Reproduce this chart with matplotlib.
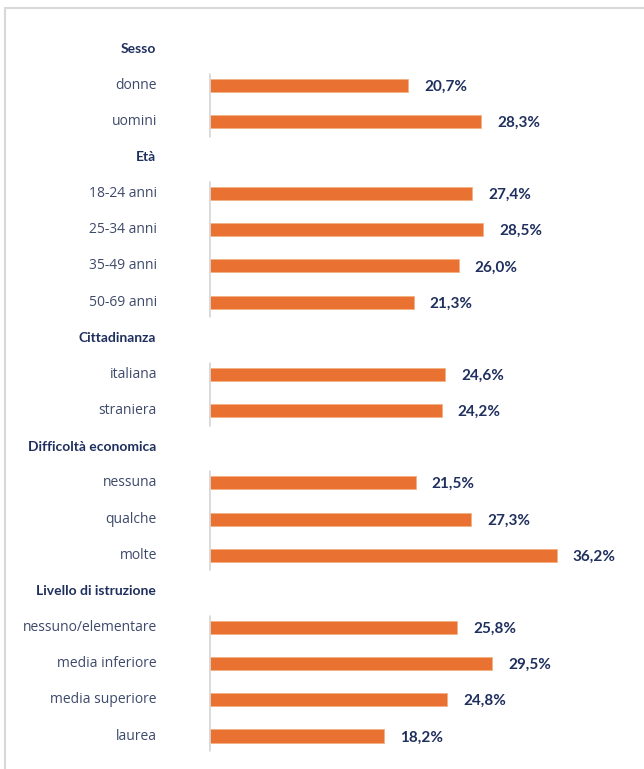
import matplotlib.pyplot as plt
from matplotlib.patches import Rectangle

# dati
groups = ['Sesso', 'Età', 'Cittadinanza', 'Difficoltà economica', 'Livello di istruzione']
sesso_labels = ['donne', 'uomini']
sesso_values = [20.7, 28.3]
eta_labels = ['18-24 anni', '25-34 anni', '35-49 anni', '50-69 anni']
eta_values = [27.4, 28.5, 26.0, 21.3]
citt_labels = ['italiana', 'straniera']
citt_values = [24.6, 24.2]
diff_labels = ['nessuna', 'qualche', 'molte']
diff_values = [21.5, 27.3, 36.2]
istr_labels = ['nessuno/elementare', 'media inferiore', 'media superiore', 'laurea']
istr_values = [25.8, 29.5, 24.8, 18.2]

all_labels = [sesso_labels, eta_labels, citt_labels, diff_labels, istr_labels]
all_values = [sesso_values, eta_values, citt_values, diff_values, istr_values]

bar_color = '#E97132'
navy = '#1F2F5E'
label_color = '#3E4A6B'
axis_color = '#D9D9D9'

plt.rcParams['font.family'] = ['Open Sans', 'DejaVu Sans']
bold_font = ['Lato', 'DejaVu Sans']

W, H = 644, 769
fig = plt.figure(figsize=(W / 100, H / 100), dpi=100)

# cornice grigia
fig.patches.append(Rectangle((5 / W, 0 - 0.01), 1.0, 1 - 8 / H + 0.01, transform=fig.transFigure,
                             fill=False, edgecolor='#D9D9D9', linewidth=1.5))

n_rows = sum(len(l) for l in all_labels) + len(groups)
row_px = (736 - 49) / (n_rows - 1)
top_px = 49 - row_px / 2
bot_px = 736 + row_px / 2
left_px, right_px = 209, 600
ax = fig.add_axes([left_px / W, 1 - bot_px / H, (right_px - left_px) / W, (bot_px - top_px) / H])
ax.set_xlim(0, (right_px - left_px) / 9.61)
ax.set_ylim(n_rows - 0.5, -0.5)
ax.axis('off')

px2pt = 72 / 100
row = 0
for g, labs, vals in zip(groups, all_labels, all_values):
    ax.annotate(g, xy=(0, row), xytext=(-53 * px2pt, 0), textcoords='offset points',
                ha='right', va='center', fontsize=10, fontweight='bold', color=navy,
                family=bold_font)
    first = row + 1
    for lab, v in zip(labs, vals):
        row += 1
        ax.barh(row, v, height=0.36, color=bar_color, edgecolor='#F4B183', linewidth=0.6)
        ax.annotate(lab, xy=(0, row), xytext=(-52 * px2pt, 0), textcoords='offset points',
                    ha='right', va='center', fontsize=10, color=label_color)
        ax.annotate(f'{v:.1f}%'.replace('.', ','), xy=(v, row), xytext=(16 * px2pt, -1),
                    textcoords='offset points', ha='left', va='center',
                    fontsize=11, fontweight='bold', color=navy, family=bold_font)
    ax.plot([0, 0], [first - 0.35, row + 0.42], color=axis_color, linewidth=2, solid_capstyle='butt')
    row += 1

fig.savefig('out.png', dpi=100)
